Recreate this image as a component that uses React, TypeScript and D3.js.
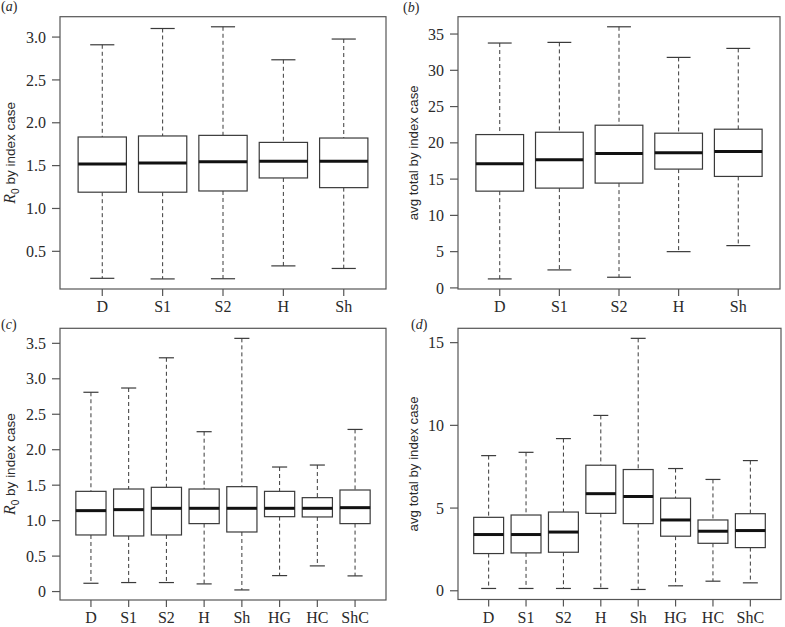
import React from 'react';
import * as d3 from 'd3';

const catsAB = ['D', 'S1', 'S2', 'H', 'Sh'];
const catsCD = ['D', 'S1', 'S2', 'H', 'Sh', 'HG', 'HC', 'ShC'];

// Panel (a): R0 by index case
const aLow = [0.185, 0.178, 0.18, 0.33, 0.30];
const aQ1 = [1.19, 1.19, 1.204, 1.356, 1.243];
const aMed = [1.519, 1.53, 1.546, 1.55, 1.55];
const aQ3 = [1.834, 1.846, 1.853, 1.771, 1.822];
const aHigh = [2.91, 3.10, 3.12, 2.735, 2.977];
const aTicks = [0.5, 1.0, 1.5, 2.0, 2.5, 3.0];

// Panel (b): avg total by index case
const bLow = [1.24, 2.48, 1.47, 5.0, 5.83];
const bQ1 = [13.34, 13.76, 14.45, 16.38, 15.37];
const bMed = [17.11, 17.66, 18.53, 18.62, 18.8];
const bQ3 = [21.14, 21.46, 22.43, 21.33, 21.88];
const bHigh = [33.76, 33.85, 36.0, 31.78, 33.02];
const bTicks = [0, 5, 10, 15, 20, 25, 30, 35];

// Panel (c): R0 by index case
const cLow = [0.117, 0.127, 0.127, 0.108, 0.023, 0.225, 0.362, 0.221];
const cQ1 = [0.798, 0.784, 0.798, 0.958, 0.84, 1.056, 1.052, 0.958];
const cMed = [1.141, 1.155, 1.174, 1.174, 1.174, 1.174, 1.174, 1.183];
const cQ3 = [1.413, 1.446, 1.47, 1.446, 1.479, 1.413, 1.324, 1.432];
const cHigh = [2.81, 2.87, 3.296, 2.254, 3.57, 1.756, 1.784, 2.286];
const cTicks = [0, 0.5, 1.0, 1.5, 2.0, 2.5, 3.0, 3.5];

// Panel (d): avg total by index case
const dLow = [0.14, 0.14, 0.14, 0.14, 0.08, 0.30, 0.58, 0.48];
const dQ1 = [2.25, 2.29, 2.33, 4.68, 4.06, 3.30, 2.87, 2.61];
const dMed = [3.40, 3.40, 3.55, 5.87, 5.70, 4.28, 3.60, 3.64];
const dQ3 = [4.44, 4.58, 4.76, 7.59, 7.33, 5.60, 4.28, 4.66];
const dHigh = [8.17, 8.37, 9.2, 10.6, 15.26, 7.39, 6.73, 7.87];
const dTicks = [0, 5, 10, 15];

const SERIF = '"Liberation Serif", "DejaVu Serif", serif';
const SANS = '"Liberation Sans", Arial, sans-serif';

type PanelProps = {
  x0: number; x1: number; top: number; bottom: number;
  cats: string[]; lo: number[]; q1: number[]; med: number[]; q3: number[]; hi: number[];
  ticks: number[]; fmt: (v: number) => string;
  ylabel: React.ReactNode; ylabelX: number; ylabelLen?: number;
  letter: string; letterX: number; letterY: number;
};

function Panel(p: PanelProps) {
  const n = p.cats.length;
  const x = d3.scaleLinear()
    .domain([0.5 - 0.04 * n, n + 0.5 + 0.04 * n])
    .range([p.x0, p.x1]);
  const mn = d3.min(p.lo) as number;
  const mx = d3.max(p.hi) as number;
  const pad = (mx - mn) * 0.04;
  const y = d3.scaleLinear().domain([mn - pad, mx + pad]).range([p.bottom, p.top]);
  const bw = x(1.4) - x(1);
  const sw = x(1.2) - x(1);
  const lineCol = '#3a3a3a';
  const frameCol = '#555';
  const textCol = '#2a2a2a';
  return (
    <g>
      <rect x={p.x0} y={p.top} width={p.x1 - p.x0} height={p.bottom - p.top}
        fill="none" stroke={frameCol} strokeWidth={1.2} />
      {p.cats.map((c, i) => {
        const cx = x(i + 1);
        return (
          <g key={c}>
            <line x1={cx} x2={cx} y1={y(p.hi[i])} y2={y(p.q3[i])} stroke={lineCol} strokeWidth={1} strokeDasharray="4,3" />
            <line x1={cx} x2={cx} y1={y(p.q1[i])} y2={y(p.lo[i])} stroke={lineCol} strokeWidth={1} strokeDasharray="4,3" />
            <line x1={cx - sw} x2={cx + sw} y1={y(p.hi[i])} y2={y(p.hi[i])} stroke={lineCol} strokeWidth={1.2} />
            <line x1={cx - sw} x2={cx + sw} y1={y(p.lo[i])} y2={y(p.lo[i])} stroke={lineCol} strokeWidth={1.2} />
            <rect x={cx - bw} y={y(p.q3[i])} width={2 * bw} height={y(p.q1[i]) - y(p.q3[i])}
              fill="white" stroke={lineCol} strokeWidth={1.2} />
            <line x1={cx - bw} x2={cx + bw} y1={y(p.med[i])} y2={y(p.med[i])} stroke="#111" strokeWidth={3} />
            <line x1={cx} x2={cx} y1={p.bottom} y2={p.bottom + 7} stroke={frameCol} strokeWidth={1.2} />
            <text x={cx} y={p.bottom + 23} textAnchor="middle" fontFamily={SERIF} fontSize={16} fill={textCol}>{c}</text>
          </g>
        );
      })}
      {p.ticks.map((t) => (
        <g key={t}>
          <line x1={p.x0 - 8} x2={p.x0} y1={y(t)} y2={y(t)} stroke={frameCol} strokeWidth={1.2} />
          <text x={p.x0 - 14} y={y(t)} dy="0.35em" textAnchor="end" fontFamily={SERIF} fontSize={16} fill={textCol}>{p.fmt(t)}</text>
        </g>
      ))}
      <text transform={`translate(${p.ylabelX},${(p.top + p.bottom) / 2}) rotate(-90)`}
        textAnchor="middle" dy="0.35em" fontFamily={SANS} fontSize={13.5} fill={textCol}
        textLength={p.ylabelLen} lengthAdjust={p.ylabelLen ? 'spacingAndGlyphs' : undefined}>{p.ylabel}</text>
      <text x={p.letterX} y={p.letterY} fontFamily={SERIF} fontStyle="italic" fontSize={14} fill={textCol}>
        <tspan fontStyle="normal">(</tspan>{p.letter}<tspan fontStyle="normal">)</tspan>
      </text>
    </g>
  );
}

const r0Label = (
  <>
    <tspan fontStyle="italic" fontFamily={SERIF} fontSize={16}>R</tspan>
    <tspan dy="4" fontSize={10}>0</tspan>
    <tspan dy="-4"> by index case</tspan>
  </>
);

const fmt1 = (v: number) => (v === 0 ? '0' : v.toFixed(1));
const fmt0 = (v: number) => String(v);

export default function App() {
  return (
    <svg width={785} height={627} style={{ position: 'absolute', left: 0, top: 0, background: 'white' }}>
      <Panel x0={60} x1={386} top={16.7} bottom={289} cats={catsAB}
        lo={aLow} q1={aQ1} med={aMed} q3={aQ3} hi={aHigh} ticks={aTicks} fmt={fmt1}
        ylabel={r0Label} ylabelX={10} letter="a" letterX={1} letterY={11} />
      <Panel x0={458} x1={780} top={16.7} bottom={289} cats={catsAB}
        lo={bLow} q1={bQ1} med={bMed} q3={bQ3} hi={bHigh} ticks={bTicks} fmt={fmt0}
        ylabel="avg total by index case" ylabelX={413} ylabelLen={135} letter="b" letterX={403} letterY={12} />
      <Panel x0={60} x1={386} top={328.3} bottom={600} cats={catsCD}
        lo={cLow} q1={cQ1} med={cQ3 === cQ3 ? cMed : cMed} q3={cQ3} hi={cHigh} ticks={cTicks} fmt={fmt1}
        ylabel={r0Label} ylabelX={10} letter="c" letterX={1} letterY={329} />
      <Panel x0={458} x1={781} top={328.3} bottom={599.5} cats={catsCD}
        lo={dLow} q1={dQ1} med={dMed} q3={dQ3} hi={dHigh} ticks={dTicks} fmt={fmt0}
        ylabel="avg total by index case" ylabelX={413} ylabelLen={135} letter="d" letterX={411} letterY={329} />
    </svg>
  );
}
